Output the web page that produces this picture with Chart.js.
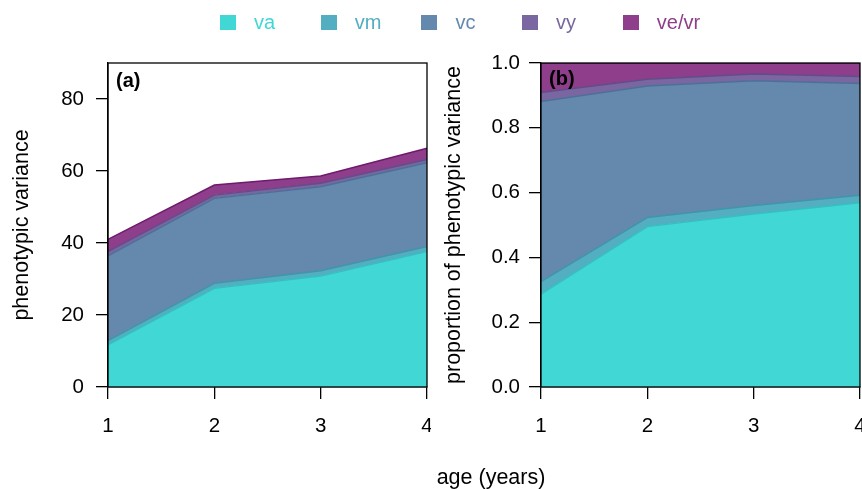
<!DOCTYPE html>
<html><head><meta charset="utf-8">
<script src="https://cdn.jsdelivr.net/npm/chart.js@4/dist/chart.umd.min.js"></script>
<style>
html,body{margin:0;padding:0;width:862px;height:489px;overflow:hidden;background:#fff;font-family:"Liberation Sans",Arial,sans-serif;}
#pa{position:absolute;left:0;top:0;width:431px;height:489px;}
#pb{position:absolute;left:431px;top:0;width:470px;height:489px;}
.lg{position:absolute;top:0;height:44px;display:flex;align-items:center;font-size:20px;}
.lg span.sq{display:inline-block;width:16px;height:15px;margin-right:18px;}
.tag{position:absolute;font-weight:bold;font-size:20px;color:#000;line-height:24px;}
#xt{position:absolute;left:0;width:982px;top:465px;text-align:center;font-size:21.5px;color:#000;}
</style></head>
<body>
<div id="pa"><canvas id="ca"></canvas></div>
<div id="pb"><canvas id="cb"></canvas></div>
<div id="legend"></div>
<div class="tag" style="left:116px;top:68px;">(a)</div>
<div class="tag" style="left:549px;top:66px;">(b)</div>
<div id="xt">age (years)</div>
<script>
// ---- data ----
const ages = ['1', '2', '3', '4'];
const seriesNames = ['va', 'vm', 'vc', 'vy', 've/vr'];
// panel (a): variance components (stacked)
const vaA = [11.7, 27.4, 30.8, 37.6];
const vmA = [1.2, 1.4, 1.5, 1.4];
const vcA = [23.5, 23.6, 23.3, 23.3];
const vyA = [1.2, 0.9, 1.0, 0.9];
const veA = [3.4, 2.8, 2.0, 3.1];
// panel (b): proportions (stacked)
const vaB = [0.287, 0.495, 0.534, 0.569];
const vmB = [0.038, 0.028, 0.026, 0.023];
const vcB = [0.556, 0.406, 0.385, 0.345];
const vyB = [0.028, 0.021, 0.021, 0.021];
const veB = [0.091, 0.050, 0.034, 0.042];
const yTicksA = [0, 20, 40, 60, 80];
const yTicksB = [0, 0.2, 0.4, 0.6, 0.8, 1.0];

const fills = ['#40D7D5', '#52AEC0', '#6489AD', '#7A66A0', '#8E3E8A'];
const lines = ['#36BFC0', '#3F95AA', '#4D7099', '#624D8A', '#6E1B6E'];

// legend
const leg = document.getElementById('legend');
seriesNames.forEach((n, i) => {
  const d = document.createElement('div');
  d.className = 'lg';
  d.style.left = (220 + i * 100.7) + 'px';
  d.style.color = fills[i];
  d.innerHTML = '<span class="sq" style="background:' + fills[i] + '"></span>' + n;
  leg.appendChild(d);
});

const TICKFONT = {family: '"Liberation Sans", Arial, sans-serif', size: 20.5};
const TITLEFONT = {family: '"Liberation Sans", Arial, sans-serif', size: 21.5};

const boxPlugin = {
  id: 'box',
  afterDatasetsDraw(chart) {
    const a = chart.chartArea, c = chart.ctx;
    c.save();
    c.strokeStyle = '#000';
    c.lineWidth = 1.3;
    c.strokeRect(a.left, a.top, a.right - a.left, a.bottom - a.top);
    c.restore();
  }
};

function makeChart(id, arrs, yMax, yTicks, fmt, yTitle, yWidth, yPad, padRight, titlePad) {
  const datasets = arrs.map((arr, i) => ({
    label: seriesNames[i],
    data: arr,
    backgroundColor: fills[i],
    borderColor: lines[i],
    borderWidth: 1.5,
    pointRadius: 0,
    tension: 0,
    fill: i === 0 ? 'origin' : '-1'
  }));
  return new Chart(document.getElementById(id), {
    type: 'line',
    data: {labels: ages, datasets},
    plugins: [boxPlugin],
    options: {
      responsive: true, maintainAspectRatio: false, animation: false,
      layout: {padding: {top: 63, right: padRight, left: 0, bottom: 0}},
      plugins: {legend: {display: false}, tooltip: {enabled: false}, filler: {propagate: false}},
      scales: {
        x: {
          type: 'category', offset: false,
          grid: {drawOnChartArea: false, tickLength: 12, color: '#000', lineWidth: 1.3, offset: false},
          border: {display: true, color: '#000', width: 1.3},
          ticks: {color: '#000', font: TICKFONT, padding: 15, maxRotation: 0},
          afterFit: s => { s.height = 102; s.paddingLeft = 0; s.paddingRight = 0; }
        },
        y: {
          stacked: true, min: 0, max: yMax,
          grid: {drawOnChartArea: false, tickLength: 12, color: '#000', lineWidth: 1.3},
          border: {display: true, color: '#000', width: 1.3},
          ticks: {color: '#000', font: TICKFONT, padding: yPad, callback: v => fmt(v)},
          afterBuildTicks: s => { s.ticks = yTicks.map(v => ({value: v})); },
          afterFit: s => { s.width = yWidth; },
          title: {display: true, text: yTitle, color: '#000', font: TITLEFONT, padding: {top: titlePad, bottom: 0}}
        }
      }
    }
  });
}

makeChart('ca', [vaA, vmA, vcA, vyA, veA], 90, yTicksA, v => String(v), 'phenotypic variance', 108, 12, 4, 9);
makeChart('cb', [vaB, vmB, vcB, vyB, veB], 1, yTicksB, v => v.toFixed(1), 'proportion of phenotypic variance', 110, 9, 41, 10);
</script>
</body></html>
